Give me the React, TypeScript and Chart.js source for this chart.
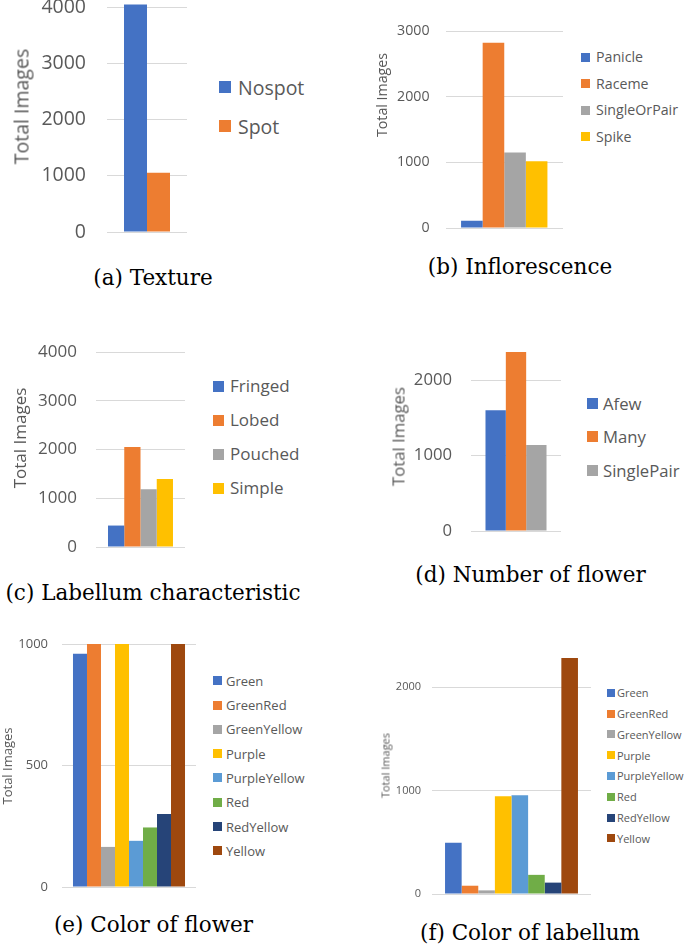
import React, { useEffect, useRef } from "react";
import { Chart, registerables } from "chart.js";

Chart.register(...registerables);

// ---------- data ----------
const textureLabels = ["Nospot", "Spot"];
const textureValues = [4050, 1055];

const inflorescenceLabels = ["Panicle", "Raceme", "SingleOrPair", "Spike"];
const inflorescenceValues = [110, 2820, 1150, 1015];

const labellumCharLabels = ["Fringed", "Lobed", "Pouched", "Simple"];
const labellumCharValues = [440, 2050, 1185, 1395];

const numberLabels = ["Afew", "Many", "SinglePair"];
const numberValues = [1600, 2375, 1140];

const colorLabels = ["Green", "GreenRed", "GreenYellow", "Purple", "PurpleYellow", "Red", "RedYellow", "Yellow"];
const flowerColorValues = [960, 1000, 165, 1000, 190, 245, 300, 1000];
const labellumColorValues = [495, 80, 35, 945, 955, 185, 110, 2280];

const captions = [
  "(a) Texture",
  "(b) Inflorescence",
  "(c) Labellum characteristic",
  "(d) Number of flower",
  "(e) Color of flower",
  "(f) Color of labellum",
];

const axisMaxes = [4200, 3000, 4000, 2400, 1000, 2300];
const ticksA = [0, 1000, 2000, 3000, 4000];
const ticksB = [0, 1000, 2000, 3000];
const ticksC = [0, 1000, 2000, 3000, 4000];
const ticksD = [0, 1000, 2000];
const ticksE = [0, 500, 1000];
const ticksF = [0, 1000, 2000];
const yTitle = "Total Images";

// ---------- styles ----------
const palette = ["#4472C4", "#ED7D31", "#A5A5A5", "#FFC000", "#5B9BD5", "#70AD47", "#264478", "#9E480E"];
const TEXT = "#595959";
const GRID = "#D9D9D9";
const SANS = "'Open Sans', 'Noto Sans', sans-serif";
const SERIF = "'DejaVu Serif', serif";

type Panel = {
  labels: string[];
  values: number[];
  max: number;
  ticks: number[];
  caption: string;
  plot: { left: number; right: number; top: number; bottom: number };
  axisW: number;
  tickPad: number;
  font: number;
  catPct: number;
  title: { x: number; y: number };
  legend: { boxX: number; box: number; textX: number; y0: number; dy: number; font: number };
  cap: { x: number; y: number };
};

const panels: Panel[] = [
  {
    labels: textureLabels, values: textureValues, max: axisMaxes[0], ticks: ticksA, caption: captions[0],
    plot: { left: 107, right: 187, top: -4.25, bottom: 232 }, axisW: 98, tickPad: 21, font: 19.5, catPct: 0.575,
    title: { x: 21, y: 106.5 },
    legend: { boxX: 219, box: 12, textX: 238, y0: 87, dy: 39, font: 19.5 }, cap: { x: 153, y: 278 },
  },
  {
    labels: inflorescenceLabels, values: inflorescenceValues, max: axisMaxes[1], ticks: ticksB, caption: captions[1],
    plot: { left: 445, right: 562, top: 31, bottom: 228 }, axisW: 71.5, tickPad: 16, font: 14.2, catPct: 0.735,
    title: { x: 382, y: 95 },
    legend: { boxX: 581, box: 9, textX: 596, y0: 57, dy: 26.5, font: 14.2 }, cap: { x: 520, y: 267 },
  },
  {
    labels: labellumCharLabels, values: labellumCharValues, max: axisMaxes[2], ticks: ticksC, caption: captions[2],
    plot: { left: 96, right: 185, top: 352, bottom: 547 }, axisW: 86, tickPad: 19, font: 17, catPct: 0.73,
    title: { x: 20, y: 438 },
    legend: { boxX: 213, box: 11, textX: 230, y0: 386, dy: 34, font: 17 }, cap: { x: 153, y: 593 },
  },
  {
    labels: numberLabels, values: numberValues, max: axisMaxes[3], ticks: ticksD, caption: captions[3],
    plot: { left: 471, right: 561, top: 350, bottom: 530.7 }, axisW: 83, tickPad: 19, font: 16.7, catPct: 0.678,
    title: { x: 398, y: 436.7 },
    legend: { boxX: 587, box: 11, textX: 603, y0: 403, dy: 33.5, font: 16.7 }, cap: { x: 530.5, y: 575 },
  },
  {
    labels: colorLabels, values: flowerColorValues, max: axisMaxes[4], ticks: ticksE, caption: captions[4],
    plot: { left: 62, right: 196, top: 644, bottom: 886.7 }, axisW: 62, tickPad: 14, font: 13, catPct: 0.836,
    title: { x: 7, y: 765.8 },
    legend: { boxX: 213, box: 9, textX: 226, y0: 680.7, dy: 24.3, font: 13 }, cap: { x: 153.5, y: 925 },
  },
  {
    labels: colorLabels, values: labellumColorValues, max: axisMaxes[5], ticks: ticksF, caption: captions[5],
    plot: { left: 432, right: 591, top: 656.3, bottom: 894.3 }, axisW: 54, tickPad: 11, font: 11, catPct: 0.836,
    title: { x: 385, y: 765.8 },
    legend: { boxX: 607, box: 8, textX: 617, y0: 692.7, dy: 20.8, font: 11 }, cap: { x: 530, y: 933 },
  },
];

const PAD = 20;

function BarPanel({ p }: { p: Panel }) {
  const ref = useRef<HTMLCanvasElement | null>(null);
  const cLeft = p.plot.left - p.axisW;
  const cTop = p.plot.top - PAD;
  const cW = Math.round(p.axisW + (p.plot.right - p.plot.left));
  const cH = Math.round(p.plot.bottom - p.plot.top + 2 * PAD);

  useEffect(() => {
    if (!ref.current) return;
    const chart = new Chart(ref.current, {
      type: "bar",
      data: {
        labels: [""],
        datasets: p.labels.map((l, i) => ({
          label: l,
          data: [p.values[i]],
          backgroundColor: palette[i],
          borderWidth: 0,
          barPercentage: 1,
          categoryPercentage: p.catPct,
        })),
      },
      options: {
        animation: false,
        responsive: false,
        devicePixelRatio: 1,
        layout: { padding: { top: PAD, bottom: PAD, left: 0, right: 0 } },
        plugins: { legend: { display: false }, tooltip: { enabled: false } },
        scales: {
          x: { display: false },
          y: {
            min: 0,
            max: p.max,
            border: { display: false },
            grid: { color: GRID, lineWidth: 1, drawTicks: false },
            ticks: {
              padding: p.tickPad,
              color: TEXT,
              font: { family: SANS, size: p.font },
              autoSkip: false,
              callback: (v: any) => String(v),
            },
            title: { display: false },
            afterBuildTicks: (scale: any) => {
              scale.ticks = p.ticks.map((v) => ({ value: v }));
            },
            afterFit: (scale: any) => {
              scale.width = p.axisW;
              scale.paddingTop = 0;
              scale.paddingBottom = 0;
            },
          },
        },
      },
    } as any);
    return () => chart.destroy();
  }, []);

  const tlh = Math.round(p.font * 1.4);
  return (
    <>
      <canvas
        ref={ref}
        width={cW}
        height={cH}
        style={{ position: "absolute", left: cLeft, top: cTop, width: cW, height: cH }}
      />
      <div
        style={{
          position: "absolute",
          left: p.title.x - 100,
          top: p.title.y - tlh / 2,
          width: 200,
          height: tlh,
          lineHeight: tlh + "px",
          textAlign: "center",
          transform: "rotate(-90deg)",
          fontFamily: SANS,
          fontSize: p.font,
          color: TEXT,
          whiteSpace: "nowrap",
        }}
      >
        {yTitle}
      </div>
      {p.labels.map((l, i) => {
        const y = p.legend.y0 + i * p.legend.dy;
        const lh = Math.round(p.legend.font * 1.4);
        return (
          <React.Fragment key={l}>
            <div
              style={{
                position: "absolute",
                left: p.legend.boxX,
                top: y - p.legend.box / 2,
                width: p.legend.box,
                height: p.legend.box,
                background: palette[i],
              }}
            />
            <div
              style={{
                position: "absolute",
                left: p.legend.textX,
                top: y - lh / 2,
                height: lh,
                lineHeight: lh + "px",
                fontFamily: SANS,
                fontSize: p.legend.font,
                color: TEXT,
                whiteSpace: "nowrap",
              }}
            >
              {l}
            </div>
          </React.Fragment>
        );
      })}
      <div
        style={{
          position: "absolute",
          left: p.cap.x - 170,
          width: 340,
          top: p.cap.y - 15,
          height: 30,
          lineHeight: "30px",
          textAlign: "center",
          fontFamily: SERIF,
          fontSize: 21.5,
          color: "#000",
          whiteSpace: "nowrap",
        }}
      >
        {p.caption}
      </div>
    </>
  );
}

export default function App() {
  return (
    <div
      style={{
        position: "absolute",
        left: 0,
        top: 0,
        width: 685,
        height: 947,
        overflow: "hidden",
        background: "#fff",
      }}
    >
      {panels.map((p, i) => (
        <BarPanel key={i} p={p} />
      ))}
    </div>
  );
}
